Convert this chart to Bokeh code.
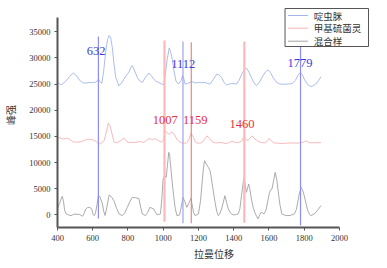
from bokeh.plotting import figure
from bokeh.models import Range1d, Label, ColumnDataSource
from bokeh.core.properties import value
from bokeh.embed import file_html
from bokeh.resources import INLINE

# ---------------- data ----------------
series_names = ["啶虫脒", "甲基硫菌灵", "混合样"]

blue_x = [400, 421, 449, 470, 490, 510, 524, 545, 561, 580, 599, 615, 627, 632, 643, 651, 662, 674, 684, 693,
          702, 711, 720, 730, 749, 763, 777, 792, 806, 815, 824, 838, 852, 866, 881, 899, 918, 932, 946, 960,
          975, 990, 1003, 1012, 1021, 1034, 1043, 1053, 1062, 1072, 1087, 1100, 1110, 1117, 1124, 1140, 1162,
          1180, 1200, 1219, 1237, 1250, 1265, 1285, 1303, 1317, 1331, 1345, 1360, 1374, 1388, 1402, 1416, 1430,
          1444, 1458, 1472, 1486, 1500, 1515, 1529, 1547, 1566, 1580, 1594, 1608, 1623, 1640, 1660, 1685, 1707,
          1722, 1735, 1750, 1763, 1778, 1790, 1800, 1820, 1838, 1852, 1866, 1880, 1895]
blue_y = [25300, 24850, 25600, 26500, 27100, 26500, 25750, 25250, 25150, 25300, 25250, 25350, 25600, 25950, 25400,
          25100, 27500, 31300, 33500, 34300, 33800, 32000, 29000, 26300, 24650, 25200, 25950, 26700, 27300, 28100,
          28500, 27500, 26300, 25600, 25300, 26250, 27100, 26600, 25950, 25500, 25300, 25000, 24900, 26800, 29400,
          31900, 31000, 29400, 27300, 25600, 25000, 25600, 26600, 26000, 25000, 25100, 25500, 25200, 25300, 25250,
          25300, 25150, 25000, 25900, 26900, 26700, 26250, 25300, 24800, 25000, 25100, 25050, 25000, 25700, 26800,
          27600, 28050, 27300, 26250, 25200, 24700, 25400, 26600, 27300, 27700, 27200, 26250, 25400, 25000, 24950,
          25000, 25050, 25200, 25700, 26600, 27200, 26800, 25950, 24900, 24500, 24700, 25000, 25600, 26400]

red_x = [400, 415, 430, 444, 458, 472, 486, 500, 514, 528, 543, 557, 571, 585, 599, 615, 625, 637, 651, 665,
         677, 689, 700, 710, 721, 735, 749, 763, 777, 786, 795, 810, 825, 843, 858, 870, 880, 890, 904, 918,
         928, 937, 950, 962, 975, 990, 1000, 1012, 1022, 1031, 1040, 1050, 1063, 1078, 1092, 1106, 1120, 1134,
         1146, 1158, 1170, 1181, 1191, 1205, 1219, 1233, 1247, 1261, 1275, 1289, 1303, 1317, 1331, 1345, 1360,
         1374, 1388, 1406, 1425, 1445, 1459, 1470, 1482, 1493, 1504, 1520, 1538, 1556, 1575, 1588, 1600, 1614,
         1628, 1650, 1669, 1700, 1726, 1760, 1782, 1796, 1810, 1824, 1838, 1866, 1895]
red_y = [14850, 14700, 14500, 14550, 14650, 14350, 14000, 13900, 13900, 13950, 14100, 14300, 14450, 14450, 14350,
         14100, 13800, 13550, 13800, 14200, 15800, 17550, 16800, 15400, 13900, 13750, 14000, 14300, 14650, 14400,
         13950, 13800, 13850, 13850, 13950, 14050, 13900, 13850, 14200, 14600, 14500, 14400, 14550, 14450, 14150,
         13900, 14300, 16000, 15700, 15450, 15600, 15900, 15300, 14450, 13900, 13750, 13700, 13750, 14500, 15550,
         14900, 14000, 13750, 13700, 13800, 14400, 15100, 14700, 14050, 13800, 13750, 13850, 13800, 13700, 13650,
         13850, 14050, 13900, 13800, 14100, 14950, 14400, 14200, 14700, 15100, 14500, 14050, 13850, 13750, 14000,
         14600, 14100, 13750, 13700, 13650, 13700, 13750, 13700, 13800, 13900, 14150, 13850, 13750, 13800, 13800]

gray_x = [400, 412, 420, 427, 434, 441, 449, 463, 477, 490, 505, 524, 535, 543, 552, 561, 570, 580, 590, 595,
          602, 608, 615, 623, 632, 640, 655, 662, 670, 680, 693, 705, 721, 735, 749, 768, 782, 796, 810, 824,
          843, 862, 872, 881, 899, 912, 924, 935, 946, 955, 965, 975, 984, 992, 999, 1008, 1017, 1024, 1031,
          1036, 1040, 1050, 1059, 1068, 1078, 1093, 1102, 1112, 1122, 1134, 1146, 1158, 1163, 1172, 1181, 1200,
          1212, 1219, 1227, 1234, 1245, 1256, 1265, 1271, 1282, 1294, 1304, 1313, 1322, 1331, 1340, 1350, 1360,
          1369, 1383, 1397, 1411, 1425, 1435, 1444, 1452, 1459, 1466, 1472, 1479, 1485, 1492, 1500, 1512, 1523,
          1538, 1547, 1556, 1564, 1572, 1582, 1590, 1603, 1610, 1617, 1626, 1635, 1644, 1654, 1663, 1673, 1697,
          1720, 1744, 1755, 1763, 1772, 1782, 1790, 1800, 1810, 1820, 1830, 1838, 1857, 1876, 1895]
gray_y = [1300, 2200, 3000, 3550, 2600, 800, 200, 0, -150, 100, 150, 80, -100, -250, 400, 1150, 1400, 1450, 1300,
          1000, 100, -150, 300, 1700, 3700, 3500, 2100, 700, -100, 1500, 3800, 3500, 2650, 1300, 190, -130, 400,
          1450, 2500, 3350, 3300, 3100, 1500, 190, -130, 500, 1450, 1300, 1150, 600, 0, 100, 190, 3000, 6870, 7500,
          7200, 9500, 11950, 11500, 10040, 6500, 3680, 1200, -130, 0, 1500, 3360, 2600, 1460, 2300, 3180, 2100, 500,
          -130, 190, 2800, 5590, 8600, 10360, 9700, 9090, 8500, 7500, 5000, 2410, 600, -130, 300, 1150, 2300, 3680,
          2300, 1150, 300, 0, 50, 190, 1200, 3680, 5800, 7310, 5500, 4310, 5200, 5900, 4800, 3050, 1200, 190, -760,
          0, 510, 400, 190, 800, 2100, 4310, 4800, 4950, 6500, 8130, 6800, 4000, 1800, 190, -130, -100, 190, 1000,
          2410, 4000, 5270, 4800, 3680, 2200, 820, 100, -130, 190, 900, 1780]

peak_pos = [632, 1007, 1112, 1159, 1460, 1779]
peak_text = ["632", "1007", "1112", "1159", "1460", "1779"]
line_top = [34100, 33300, 33100, 33000, 33100, 33000]
line_bottom = [-700, -1300, -1600, -1600, -1500, -2000]
label_x = [619, 1011, 1114, 1182, 1447, 1776]
label_y = [31350, 18180, 28870, 18180, 17430, 29060]

x_ticks = [400, 600, 800, 1000, 1200, 1400, 1600, 1800, 2000]
y_ticks = [0, 5000, 10000, 15000, 20000, 25000, 30000, 35000]

# ---------------- layout / styles ----------------
W, H = 387, 268
BL, BR, BT, BB = 55, 17, 2, 41          # borders around the frame (px)
X0, X1 = 400, 2176                       # frame extends past 2000 so the legend fits
Y0, Y1 = -2400, 40570

def px_x(px):
    return X0 + (px - BL) * (X1 - X0) / (W - BL - BR)

def px_y(py):
    return Y0 + (H - BB - py) * (Y1 - Y0) / (H - BT - BB)

curve_colors = ["#a2b6ea", "#f5b2b2", "#a2a2a2"]
line_colors = ["#8c8cf4", "#ffb8b8", "#a0a0f4", "#e87a7a", "#ffb8b8", "#8c8cf4"]
line_widths = [1.2, 2.2, 1.2, 1.1, 2.2, 1.2]
text_colors = ["#3c3cd8", "#e8303a", "#3c3cd8", "#e8303a", "#e8303a", "#3c3cd8"]

p = figure(width=W, height=H, output_backend="svg", toolbar_location=None,
           x_range=Range1d(X0, X1), y_range=Range1d(Y0, Y1),
           min_border_left=BL, min_border_right=BR, min_border_top=BT, min_border_bottom=BB)
p.outline_line_color = None
p.xgrid.visible = False
p.ygrid.visible = False
p.background_fill_color = "white"
p.border_fill_color = "white"

p.line(blue_x, blue_y, line_color=curve_colors[0], line_width=0.9)
p.line(red_x, red_y, line_color=curve_colors[1], line_width=0.9)
p.line(gray_x, gray_y, line_color=curve_colors[2], line_width=0.9)

src = ColumnDataSource(dict(x=peak_pos, y0=line_bottom, y1=line_top, c=line_colors, w=line_widths))
p.segment(x0="x", y0="y0", x1="x", y1="y1", line_color="c", line_width="w", source=src)

for t, lx, ly, tc in zip(peak_text, label_x, label_y, text_colors):
    p.add_layout(Label(x=lx, y=ly, text=t, text_color=tc, text_font="Liberation Serif",
                       text_font_size="12.5px", text_align="center", text_baseline="middle"))

# ---- legend box (drawn with glyphs for exact row spacing) ----
p.quad(left=px_x(284), right=px_x(368), top=px_y(8), bottom=px_y(46),
       fill_color="white", line_color="#555555", line_width=1)
row_py = [15, 27.7, 40.7]
p.segment(x0=[px_x(287)] * 3, x1=[px_x(307)] * 3, y0=[px_y(r) for r in row_py],
          y1=[px_y(r) for r in row_py], line_color=curve_colors, line_width=1)
p.text(x=[px_x(313)] * 3, y=[px_y(r) for r in row_py], text=series_names,
       text_font=value("Noto Sans CJK SC"), text_font_size="9.5px", text_color="#333333",
       text_align="left", text_baseline="middle")

for ax in (p.xaxis[0], p.yaxis[0]):
    ax.axis_line_color = "#555555"
    ax.axis_line_width = 2
    ax.major_tick_line_color = "#555555"
    ax.minor_tick_line_color = "#555555"
    ax.major_tick_in = 0
    ax.major_tick_out = 3
    ax.minor_tick_in = 0
    ax.minor_tick_out = 2
    ax.major_label_text_font = "Liberation Serif"
    ax.major_label_text_font_size = "8.5px"
    ax.major_label_text_color = "#333333"
    ax.axis_label_text_font = "Noto Sans CJK SC"
    ax.axis_label_text_font_style = "normal"
    ax.axis_label_text_color = "#333333"
    ax.axis_label_text_font_size = "10px"

p.xaxis.ticker = x_ticks
p.yaxis.ticker = y_ticks
p.xaxis[0].ticker.num_minor_ticks = 2
p.yaxis[0].ticker.num_minor_ticks = 2
p.xaxis[0].bounds = (400, 2000)
p.yaxis[0].bounds = (-2400, 37700)
p.xaxis.axis_label = "拉曼位移"
p.yaxis.axis_label = "峰强"
p.xaxis.major_label_standoff = 4
p.yaxis.major_label_standoff = 4
p.xaxis.axis_label_standoff = 2
p.yaxis.axis_label_standoff = 8

open("out.html", "w").write(file_html(p, INLINE))
